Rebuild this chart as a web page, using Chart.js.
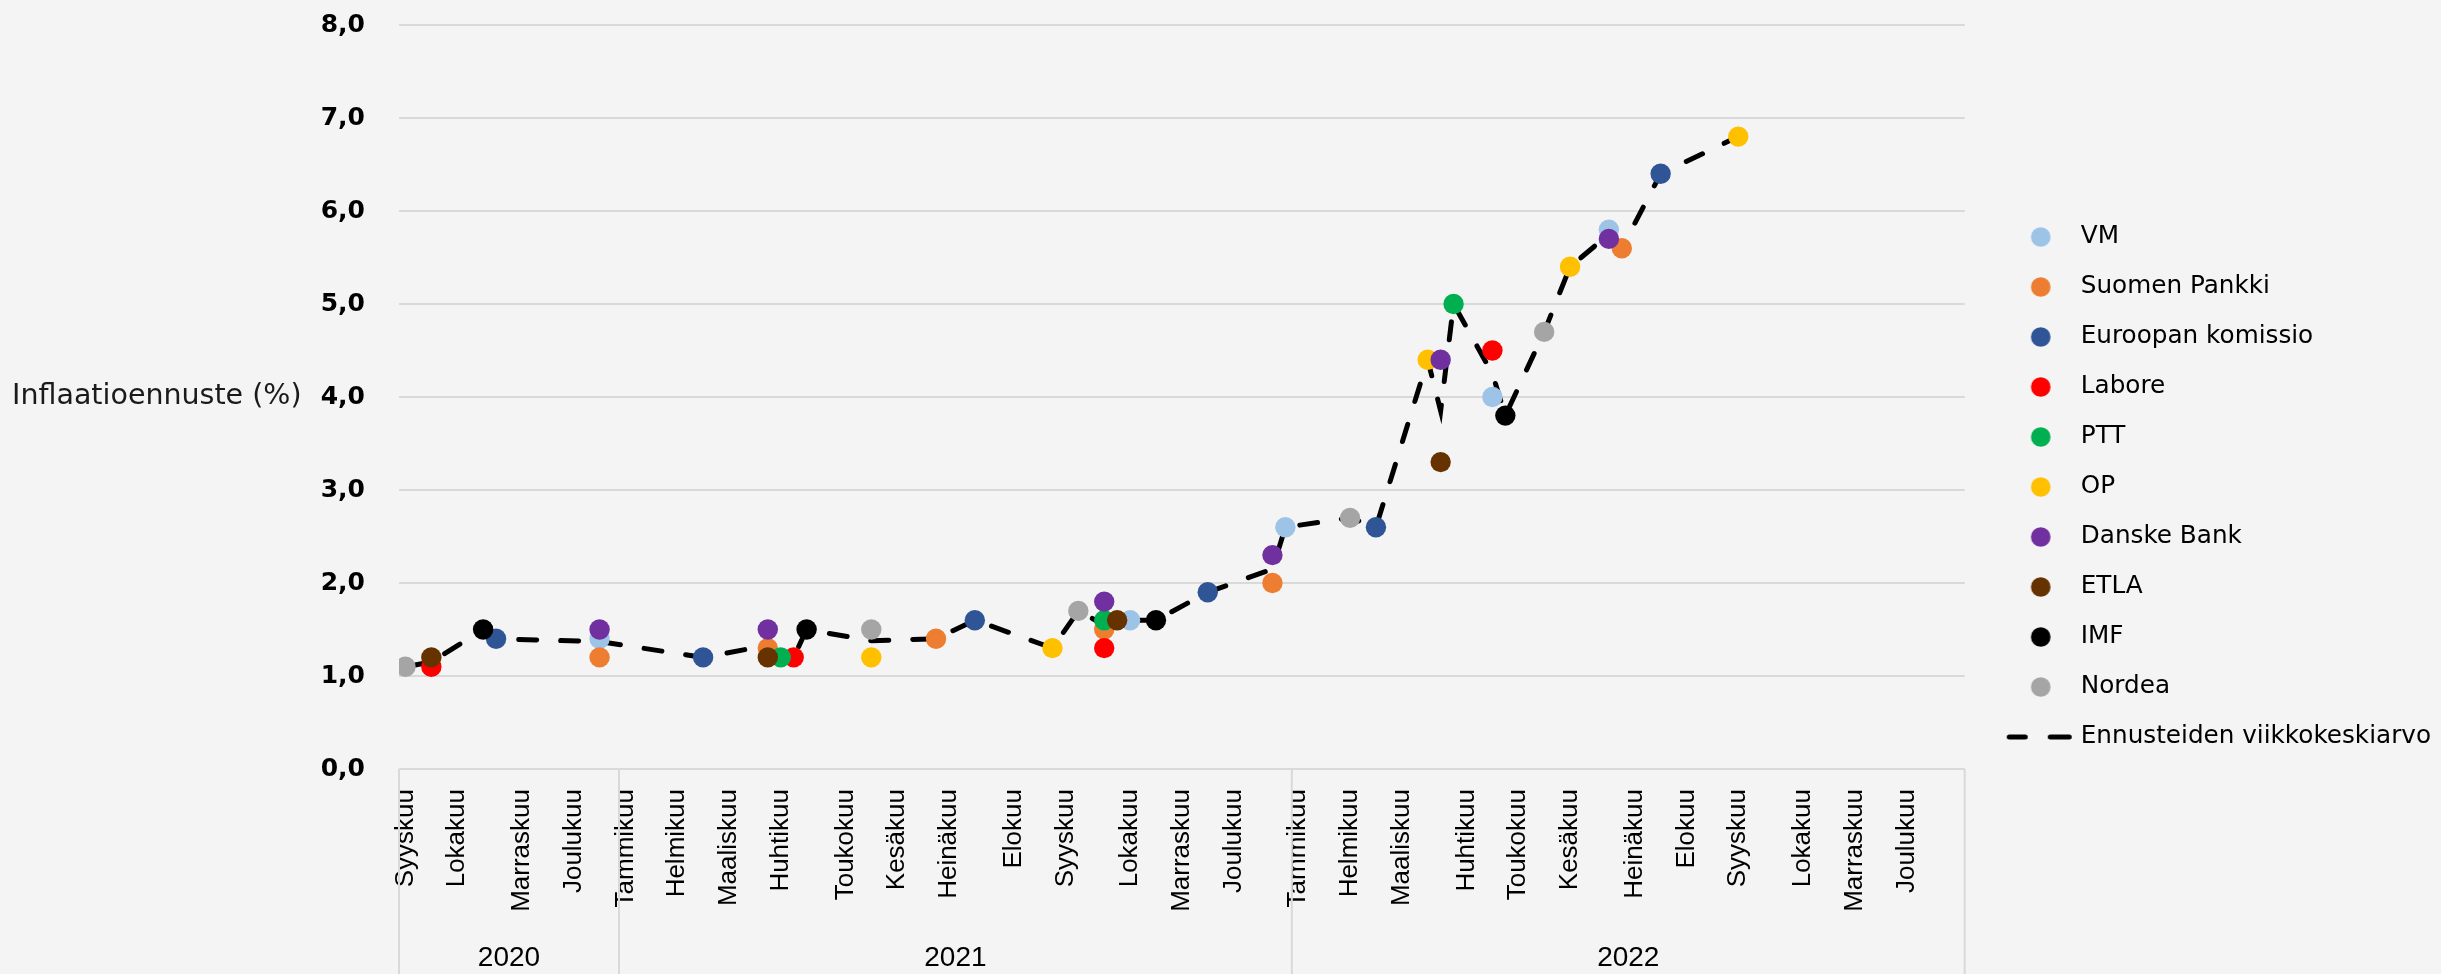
<!DOCTYPE html>
<html>
<head>
<meta charset="utf-8">
<script src="https://cdn.jsdelivr.net/npm/chart.js@4"></script>
<style>
  html, body { margin: 0; padding: 0; background: #f4f4f4; }
  canvas { display: block; }
</style>
</head>
<body>
<canvas id="inflaatio" width="2441" height="974"></canvas>
<script>
// x-akseli: viikot syyskuun 2020 alusta (0 = ensimmäinen viikko)
const monthLabels = ['Syyskuu', 'Lokakuu', 'Marraskuu', 'Joulukuu',
  'Tammikuu', 'Helmikuu', 'Maaliskuu', 'Huhtikuu', 'Toukokuu', 'Kesäkuu',
  'Heinäkuu', 'Elokuu', 'Syyskuu', 'Lokakuu', 'Marraskuu', 'Joulukuu',
  'Tammikuu', 'Helmikuu', 'Maaliskuu', 'Huhtikuu', 'Toukokuu', 'Kesäkuu',
  'Heinäkuu', 'Elokuu', 'Syyskuu', 'Lokakuu', 'Marraskuu', 'Joulukuu'];
const monthStartWeek = [0, 4, 9, 13, 17, 21, 25, 29, 34, 38, 42, 47, 51, 56, 60, 64,
  69, 73, 77, 82, 86, 90, 95, 99, 103, 108, 112, 116];
const years = ['2020', '2021', '2022'];
const yearStartWeek = [0, 17, 69];
const weekCount = 121;
const yTicks = [0, 1, 2, 3, 4, 5, 6, 7, 8];

// ennusteet (viikko, inflaatio %)
const vmWeeks = [15, 56, 68, 84, 93];
const vmValues = [1.4, 1.6, 2.6, 4.0, 5.8];
const spWeeks = [15, 28, 41, 54, 67, 94];
const spValues = [1.2, 1.3, 1.4, 1.5, 2.0, 5.6];
const ekWeeks = [7, 23, 44, 62, 75, 97];
const ekValues = [1.4, 1.2, 1.6, 1.9, 2.6, 6.4];
const laboreWeeks = [2, 30, 54, 84];
const laboreValues = [1.1, 1.2, 1.3, 4.5];
const pttWeeks = [29, 54, 81];
const pttValues = [1.2, 1.6, 5.0];
const opWeeks = [36, 50, 79, 90, 103];
const opValues = [1.2, 1.3, 4.4, 5.4, 6.8];
const danskeWeeks = [15, 28, 54, 67, 80, 93];
const danskeValues = [1.5, 1.5, 1.8, 2.3, 4.4, 5.7];
const etlaWeeks = [2, 28, 55, 80];
const etlaValues = [1.2, 1.2, 1.6, 3.3];
const imfWeeks = [6, 31, 58, 85];
const imfValues = [1.5, 1.5, 1.6, 3.8];
const nordeaWeeks = [0, 36, 52, 73, 88];
const nordeaValues = [1.1, 1.5, 1.7, 2.7, 4.7];

// ennusteiden viikkokeskiarvo
const avgWeeks = [0, 2, 6, 7, 15, 23, 28, 29, 30, 31, 36, 41, 44, 50, 52, 54, 55, 56,
  58, 62, 67, 68, 73, 75, 79, 80, 81, 84, 85, 88, 90, 93, 94, 97, 103];
const avgValues = [1.1, 1.15, 1.5, 1.4, 1.37, 1.2, 1.33, 1.2, 1.2, 1.5, 1.38, 1.4, 1.6,
  1.3, 1.7, 1.55, 1.6, 1.6, 1.6, 1.9, 2.15, 2.6, 2.7, 2.6, 4.4, 3.85, 5.0, 4.25, 3.8,
  4.7, 5.4, 5.75, 5.6, 6.4, 6.8];

const series = [
  ['VM', '#9dc3e6', vmWeeks, vmValues],
  ['Suomen Pankki', '#ed7d31', spWeeks, spValues],
  ['Euroopan komissio', '#2f5597', ekWeeks, ekValues],
  ['Labore', '#ff0000', laboreWeeks, laboreValues],
  ['PTT', '#00b050', pttWeeks, pttValues],
  ['OP', '#ffc000', opWeeks, opValues],
  ['Danske Bank', '#7030a0', danskeWeeks, danskeValues],
  ['ETLA', '#663300', etlaWeeks, etlaValues],
  ['IMF', '#000000', imfWeeks, imfValues],
  ['Nordea', '#a5a5a5', nordeaWeeks, nordeaValues]
];

function points(weeks, values) {
  return weeks.map((w, i) => ({ x: w, y: values[i] }));
}

const datasets = series.map(([name, color, weeks, values], i) => ({
  label: name,
  data: points(weeks, values),
  backgroundColor: color,
  borderColor: color,
  pointRadius: 10.2,
  pointHoverRadius: 10.2,
  pointBorderWidth: 0,
  order: 50 - i // myöhemmät pisteet päälle
}));

datasets.push({
  label: 'Ennusteiden viikkokeskiarvo',
  data: points(avgWeeks, avgValues),
  showLine: true,
  borderColor: '#000000',
  backgroundColor: '#000000',
  borderWidth: 5,
  borderDash: [18, 24],
  borderCapStyle: 'round',
  pointRadius: 0,
  tension: 0,
  order: 100
});

// legendan symbolit
function dotIcon(color) {
  const c = document.createElement('canvas');
  c.width = 22; c.height = 22;
  const g = c.getContext('2d');
  g.fillStyle = color;
  g.beginPath();
  g.arc(11, 11, 9.8, 0, Math.PI * 2);
  g.fill();
  return c;
}

function dashIcon() {
  const c = document.createElement('canvas');
  c.width = 70; c.height = 8;
  const g = c.getContext('2d');
  g.strokeStyle = '#000';
  g.lineWidth = 5;
  g.lineCap = 'round';
  g.beginPath();
  g.moveTo(3.5, 4); g.lineTo(19.5, 4);
  g.moveTo(44.5, 4); g.lineTo(63.5, 4);
  g.stroke();
  return c;
}

const background = {
  id: 'background',
  beforeDraw(chart) {
    const ctx = chart.ctx;
    ctx.save();
    ctx.fillStyle = '#f4f4f4';
    ctx.fillRect(0, 0, chart.width, chart.height);
    ctx.restore();
  }
};

// y-akselin otsikko vaakasuunnassa
const yTitle = {
  id: 'yTitle',
  afterDraw(chart) {
    const { ctx, chartArea } = chart;
    ctx.save();
    ctx.font = '28.5px "DejaVu Sans"';
    ctx.fillStyle = '#1a1a1a';
    ctx.textAlign = 'left';
    ctx.textBaseline = 'middle';
    ctx.fillText('Inflaatioennuste (%)', 12, (chartArea.top + chartArea.bottom) / 2);
    ctx.restore();
  }
};

// vuositaso kuukausien alla
const yearAxis = {
  id: 'yearAxis',
  afterDraw(chart) {
    const { ctx, chartArea, height } = chart;
    const xs = chart.scales.x;
    const bounds = yearStartWeek.map(w => w - 0.5).concat([weekCount - 0.5]);
    ctx.save();
    ctx.strokeStyle = '#d9d9d9';
    ctx.lineWidth = 2;
    bounds.forEach(b => {
      const px = xs.getPixelForValue(b);
      ctx.beginPath();
      ctx.moveTo(px, chartArea.bottom);
      ctx.lineTo(px, height);
      ctx.stroke();
    });
    ctx.font = '28px "Liberation Sans"';
    ctx.fillStyle = '#000';
    ctx.textAlign = 'center';
    ctx.textBaseline = 'middle';
    years.forEach((yr, i) => {
      const mid = (xs.getPixelForValue(bounds[i]) + xs.getPixelForValue(bounds[i + 1])) / 2;
      ctx.fillText(yr, mid, height - 16);
    });
    ctx.restore();
  }
};

new Chart(document.getElementById('inflaatio'), {
  type: 'scatter',
  data: { datasets: datasets },
  plugins: [background, yTitle, yearAxis],
  options: {
    responsive: false,
    animation: false,
    devicePixelRatio: 1,
    events: [],
    layout: { padding: 0 },
    scales: {
      x: {
        type: 'linear',
        min: -0.5,
        max: weekCount - 0.5,
        afterBuildTicks: s => { s.ticks = monthStartWeek.map(v => ({ value: v })); },
        afterFit: s => { s.height = 205; s.paddingLeft = 0; s.paddingRight = 0; },
        grid: { display: false, drawTicks: false },
        border: { display: false },
        ticks: {
          autoSkip: false,
          maxRotation: 90,
          minRotation: 90,
          padding: 20,
          color: '#000',
          font: { family: 'Liberation Sans', size: 26 },
          callback: (v, i) => monthLabels[i]
        }
      },
      y: {
        min: 0,
        max: 8,
        afterBuildTicks: s => { s.ticks = yTicks.map(v => ({ value: v })); },
        afterFit: s => { s.width = 399; s.paddingTop = 0; s.paddingBottom = 0; },
        grid: { color: '#d9d9d9', lineWidth: 2, drawTicks: false },
        border: { display: false },
        ticks: {
          padding: 34,
          color: '#000',
          font: { family: 'DejaVu Sans', size: 25, weight: 'bold' },
          callback: v => v.toFixed(1).replace('.', ',')
        }
      },
      gap: {
        type: 'linear',
        position: 'right',
        grid: { display: false, drawTicks: false },
        border: { display: false },
        ticks: { display: false },
        afterFit: s => { s.width = 23; s.paddingTop = 0; s.paddingBottom = 0; }
      }
    },
    plugins: {
      title: {
        display: true,
        text: '',
        fullSize: false,
        padding: { top: 15, bottom: 0 },
        font: { size: 10, lineHeight: 1 }
      },
      tooltip: { enabled: false },
      legend: {
        position: 'right',
        maxWidth: 700,
        labels: {
          usePointStyle: true,
          pointStyleWidth: 55.4,
          padding: 25.3,
          color: '#1a1a1a',
          font: { family: 'DejaVu Sans', size: 24.7 },
          generateLabels: chart => chart.data.datasets.map((ds, i) => ({
            text: ds.label,
            pointStyle: ds.showLine ? dashIcon() : dotIcon(ds.backgroundColor),
            fillStyle: ds.backgroundColor,
            strokeStyle: ds.borderColor,
            lineWidth: 0,
            hidden: false,
            datasetIndex: i
          }))
        }
      }
    }
  }
});
</script>
</body>
</html>
